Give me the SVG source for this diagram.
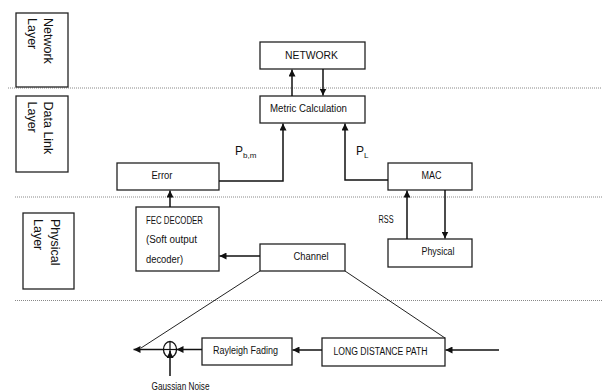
<svg xmlns="http://www.w3.org/2000/svg" width="610" height="392" viewBox="0 0 610 392">
<defs>
<marker id="ah" viewBox="0 0 10 10" refX="10" refY="5" markerWidth="7" markerHeight="7" markerUnits="userSpaceOnUse" orient="auto">
<path d="M0,0 L10,5 L0,10 z" fill="#111"/>
</marker>
<style>
.box{fill:#fff;stroke:#222;stroke-width:1.3}
.lay{fill:#fff;stroke:#222;stroke-width:1.3}
.sep{stroke:#888;stroke-width:1;stroke-dasharray:1,1;fill:none}
.c{stroke:#111;stroke-width:1.5;fill:none}
.d{stroke:#222;stroke-width:1;fill:none}
.t{font-family:"Liberation Sans",Arial,sans-serif;font-size:10px;fill:#111}
.lt{font-family:"Liberation Sans",Arial,sans-serif;font-size:12.5px;fill:#111}
</style>
</defs>
<rect width="610" height="392" fill="#fff"/>
<g id="separators">
<line class="sep" x1="8" y1="88" x2="602" y2="88"/>
<line class="sep" x1="15" y1="197" x2="602" y2="197"/>
<line class="sep" x1="15" y1="300.5" x2="602" y2="300.5"/>
</g>
<g id="network-layer">
<rect class="lay" x="16" y="13" width="52" height="74"/>
<text class="lt" transform="translate(44,18) rotate(90)">Network</text>
<text class="lt" transform="translate(27.5,18) rotate(90)">Layer</text>
</g>
<g id="datalink-layer">
<rect class="lay" x="16" y="96" width="52" height="76"/>
<text class="lt" transform="translate(44,101.5) rotate(90)">Data Link</text>
<text class="lt" transform="translate(27.5,101.5) rotate(90)">Layer</text>
</g>
<g id="physical-layer">
<rect class="lay" x="23" y="213" width="51" height="76"/>
<text class="lt" transform="translate(51,219) rotate(90)">Physical</text>
<text class="lt" transform="translate(34,219) rotate(90)">Layer</text>
</g>
<g id="network">
<rect class="box" x="260" y="42" width="105" height="27"/>
<text class="t" x="285" y="58.5" textLength="53" lengthAdjust="spacingAndGlyphs">NETWORK</text>
</g>
<g id="metric">
<rect class="box" x="260" y="96" width="105" height="27"/>
<text class="t" x="270" y="112" textLength="77" lengthAdjust="spacingAndGlyphs">Metric Calculation</text>
</g>
<g id="error">
<rect class="box" x="117" y="163" width="102" height="27"/>
<text class="t" x="151.5" y="179" textLength="21" lengthAdjust="spacingAndGlyphs">Error</text>
</g>
<g id="mac">
<rect class="box" x="388" y="163" width="84" height="27"/>
<text class="t" x="421.5" y="179" textLength="20" lengthAdjust="spacingAndGlyphs">MAC</text>
</g>
<g id="physical">
<rect class="box" x="388" y="239" width="84" height="28"/>
<text class="t" x="421.5" y="255" textLength="33" lengthAdjust="spacingAndGlyphs">Physical</text>
</g>
<g id="fec">
<rect class="box" x="136" y="207" width="83" height="64"/>
<text class="t" x="146" y="223.5" textLength="57" lengthAdjust="spacingAndGlyphs">FEC DECODER</text>
<text class="t" x="146" y="243" textLength="51" lengthAdjust="spacingAndGlyphs">(Soft output</text>
<text class="t" x="146" y="262.5" textLength="37" lengthAdjust="spacingAndGlyphs">decoder)</text>
</g>
<g id="channel">
<rect class="box" x="260" y="244" width="85" height="27"/>
<text class="t" x="293.5" y="260" textLength="35" lengthAdjust="spacingAndGlyphs">Channel</text>
</g>
<g id="rayleigh">
<rect class="box" x="202" y="338" width="90" height="27"/>
<text class="t" x="213" y="354" textLength="65" lengthAdjust="spacingAndGlyphs">Rayleigh Fading</text>
</g>
<g id="ldp">
<rect class="box" x="322" y="338" width="123" height="28"/>
<text class="t" x="333.5" y="354.5" textLength="94" lengthAdjust="spacingAndGlyphs">LONG DISTANCE PATH</text>
</g>
<g id="adder">
<ellipse cx="170" cy="349.5" rx="6.5" ry="8" fill="#fff" stroke="#111" stroke-width="1.3"/>
<line x1="163.5" y1="349.5" x2="176.5" y2="349.5" stroke="#111" stroke-width="1.2"/>
<line x1="170" y1="341.5" x2="170" y2="357.5" stroke="#111" stroke-width="1.2"/>
</g>
<g id="labels">
<text class="t" x="235" y="155" style="font-size:12px">P<tspan style="font-size:8px" dy="2.5">b,m</tspan></text>
<text class="t" x="356" y="155" style="font-size:12px">P<tspan style="font-size:8px" dy="2.5">L</tspan></text>
<text class="t" x="378.5" y="222.5" textLength="15" lengthAdjust="spacingAndGlyphs">RSS</text>
<text class="t" x="151.5" y="389.5" textLength="58" lengthAdjust="spacingAndGlyphs">Gaussian Noise</text>
</g>
<g id="connectors">
<line class="c" x1="292" y1="96" x2="292" y2="69.5" marker-end="url(#ah)"/>
<line class="c" x1="323" y1="69" x2="323" y2="95.5" marker-end="url(#ah)"/>
<polyline class="c" points="219,181 283,181 283,123.5" marker-end="url(#ah)"/>
<polyline class="c" points="388,180 345,180 345,123.5" marker-end="url(#ah)"/>
<line class="c" x1="407" y1="239" x2="407" y2="190.5" marker-end="url(#ah)"/>
<line class="c" x1="445" y1="190" x2="445" y2="238.5" marker-end="url(#ah)"/>
<line class="c" x1="170" y1="207" x2="170" y2="190.5" marker-end="url(#ah)"/>
<line class="c" x1="260" y1="256" x2="219.5" y2="256" marker-end="url(#ah)"/>
<line class="d" x1="260" y1="271" x2="141" y2="348"/>
<line class="d" x1="345" y1="271" x2="445" y2="338"/>
<line class="c" x1="499" y1="350" x2="445.5" y2="350" marker-end="url(#ah)"/>
<line class="c" x1="322" y1="350" x2="292.5" y2="350" marker-end="url(#ah)"/>
<line class="c" x1="202" y1="349.5" x2="176.5" y2="349.5" marker-end="url(#ah)"/>
<line class="c" x1="163.5" y1="349.5" x2="133.5" y2="349.5" marker-end="url(#ah)"/>
<line class="c" x1="170" y1="376" x2="170" y2="351" marker-end="url(#ah)"/>
</g>
</svg>
